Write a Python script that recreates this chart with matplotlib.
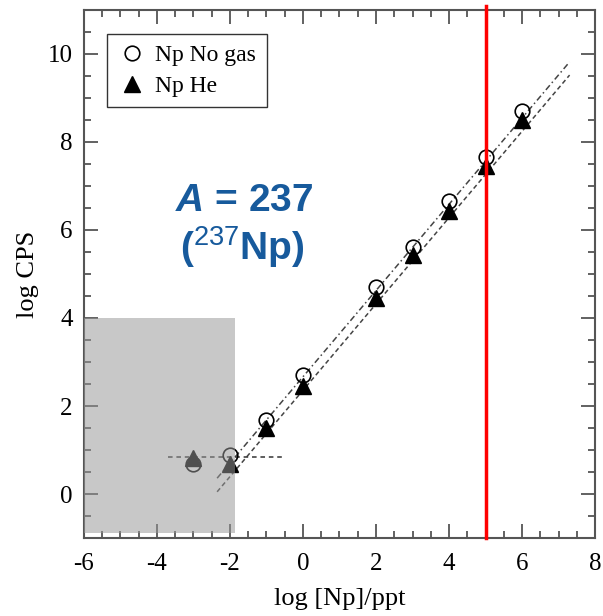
import matplotlib.pyplot as plt
from matplotlib.patches import Rectangle
from matplotlib.ticker import MultipleLocator

# data
conc = [-3, -2, -1, 0, 2, 3, 4, 5, 6]
cps_nogas = [0.68, 0.88, 1.68, 2.7, 4.7, 5.62, 6.65, 7.67, 8.7]
cps_he = [0.82, 0.68, 1.5, 2.45, 4.45, 5.43, 6.43, 7.45, 8.5]

fit_x = [-2.35, 7.3]
fit_nogas = [0.36, 9.82]
fit_he = [0.05, 9.52]

bg_x = [-3.7, -0.5]
bg_y = [0.83, 0.83]

plt.rcParams['font.family'] = ['Liberation Serif', 'DejaVu Serif']
plt.rcParams['axes.unicode_minus'] = False
plt.rcParams['mathtext.fontset'] = 'custom'
plt.rcParams['mathtext.it'] = 'Liberation Sans:bold:italic'
plt.rcParams['mathtext.rm'] = 'Liberation Sans'

fig = plt.figure(figsize=(6.03, 6.16), dpi=100)
ax = fig.add_axes([0.139, 0.1266, 0.848, 0.8572])

ax.plot(fit_x, fit_nogas, color='#444444', lw=1.1, ls=(0, (4, 2, 1, 2)))
ax.plot(fit_x, fit_he, color='#444444', lw=1.1, ls=(0, (3, 2)))
ax.plot(bg_x, bg_y, color='#333333', lw=1.1, ls=(0, (3, 2.5)))

ax.plot(conc, cps_nogas, 'o', mfc='none', mec='black', mew=1.2, ms=10.5,
        label='Np No gas', zorder=3)
ax.plot(conc, cps_he, '^', color='black', ms=11.5, label='Np He', zorder=4)

# detection-limit region drawn over the low points
ax.add_patch(Rectangle((-6, -0.88), 4.14, 4.88, facecolor='#979797',
                       alpha=0.53, edgecolor='none', zorder=5))

ax.plot([5, 5], [-1, 11.1], color='red', lw=2.5, zorder=6, clip_on=False)

blue = '#175a9c'
ax.text(-1.6, 6.66, r'$A$ = 237', fontsize=28, fontweight='bold',
        color=blue, family='Liberation Sans', ha='center', va='center')
ax.text(-1.65, 5.62, r'($^{237}$Np)', fontsize=28, fontweight='bold',
        color=blue, family='Liberation Sans', ha='center', va='center')

ax.set_xlim(-6, 8)
ax.set_ylim(-1, 11)
ax.xaxis.set_major_locator(MultipleLocator(2))
ax.xaxis.set_minor_locator(MultipleLocator(0.5))
ax.set_yticks([0, 2, 4, 6, 8, 10])
ax.yaxis.set_minor_locator(MultipleLocator(0.5))
ax.tick_params(which='both', direction='in', top=True, right=True,
               color='#555555', labelsize=18)
ax.tick_params(axis='x', pad=11)
ax.tick_params(axis='y', pad=8)
ax.tick_params(which='major', length=10, width=1.3)
ax.tick_params(which='minor', length=5, width=1.3)
for s in ax.spines.values():
    s.set_color('#555555')
    s.set_linewidth(1.5)

ax.set_xlabel('log [Np]/ppt', fontsize=19, labelpad=9)
ax.set_ylabel('log CPS', fontsize=19, labelpad=6)

leg = ax.legend(loc='upper left', bbox_to_anchor=(0.045, 0.955), fontsize=17,
                frameon=True, fancybox=False, edgecolor='black',
                borderaxespad=0, handletextpad=0.4, borderpad=0.45,
                handlelength=1.2, labelspacing=0.4)
leg.get_frame().set_linewidth(1.0)

fig.savefig('out.png', dpi=100)
